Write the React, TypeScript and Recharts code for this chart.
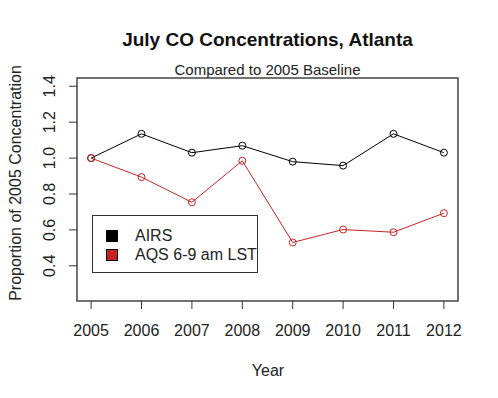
import { LineChart, Line, XAxis, YAxis, ReferenceArea } from 'recharts';

const years = [2005, 2006, 2007, 2008, 2009, 2010, 2011, 2012];
const airs = [1.0, 1.135, 1.03, 1.069, 0.98, 0.958, 1.135, 1.03];
const aqs = [1.0, 0.894, 0.754, 0.985, 0.53, 0.602, 0.587, 0.693];
const yTicks = [0.4, 0.6, 0.8, 1.0, 1.2, 1.4];

const data = years.map((year, i) => ({ year, airs: airs[i], aqs: aqs[i] }));

const FONT = '"Liberation Sans", Arial, sans-serif';
const RED = '#c42424';
const X_DOMAIN: [number, number] = [2004.72, 2012.28];
const Y_DOMAIN: [number, number] = [0.204, 1.446];

// eslint-disable-next-line @typescript-eslint/no-explicit-any
function YTick({ x, y, payload }: any) {
  return (
    <text
      x={x}
      y={y}
      transform={`rotate(-90, ${x}, ${y})`}
      textAnchor="middle"
      dominantBaseline="central"
      fontSize={16}
      fontFamily={FONT}
      fill="#222"
    >
      {payload.value.toFixed(1)}
    </text>
  );
}

function Legend() {
  return (
    <div style={{
      position: 'absolute',
      left: 92,
      top: 215,
      width: 164,
      height: 56,
      border: '1px solid #333',
      background: '#fff',
      fontFamily: FONT,
      fontSize: 16,
      color: '#222',
    }}>
      {[['AIRS', '#000'], ['AQS 6-9 am LST', RED]].map(([name, color], i) => (
        <div key={name} style={{ position: 'absolute', left: 13, top: 11 + i * 19, display: 'flex', alignItems: 'center', height: 18 }}>
          <div style={{ width: 10, height: 10, background: color, border: '1px solid #000', marginRight: 17 }} />
          <span>{name}</span>
        </div>
      ))}
    </div>
  );
}

export default function App() {
  return (
    <div style={{ position: 'absolute', left: 0, top: 0, width: 498, height: 398, background: '#fff', fontFamily: FONT }}>
      <div style={{ position: 'absolute', left: 0, width: 535, top: 29, textAlign: 'center', fontSize: 19, fontWeight: 'bold', color: '#111' }}>
        July CO Concentrations, Atlanta
      </div>
      <div style={{ position: 'absolute', left: 0, width: 535, top: 61, textAlign: 'center', fontSize: 15, color: '#222' }}>
        Compared to 2005 Baseline
      </div>
      <div style={{ position: 'absolute', left: 268 - 50, width: 100, top: 362, textAlign: 'center', fontSize: 16, color: '#222' }}>
        Year
      </div>
      <div style={{
        position: 'absolute', left: 16, top: 183, transform: 'translate(-50%, -50%) rotate(-90deg)',
        whiteSpace: 'nowrap', fontSize: 16, color: '#222',
      }}>
        Proportion of 2005 Concentration
      </div>
      <LineChart width={498} height={398} data={data} margin={{ top: 78, right: 40, bottom: 37, left: 0 }}>
        <XAxis
          dataKey="year"
          type="number"
          domain={X_DOMAIN}
          ticks={years}
          allowDataOverflow
          axisLine={false}
          tickSize={8}
          tickMargin={16}
          tickLine={{ stroke: '#333' }}
          tick={{ fontSize: 16, fontFamily: FONT, fill: '#222' }}
          height={60}
        />
        <YAxis
          type="number"
          domain={Y_DOMAIN}
          ticks={yTicks}
          allowDataOverflow
          axisLine={false}
          tickSize={8}
          tickMargin={19}
          tickLine={{ stroke: '#333' }}
          tick={<YTick />}
          width={77}
        />
        <ReferenceArea x1={X_DOMAIN[0]} x2={X_DOMAIN[1]} y1={Y_DOMAIN[0]} y2={Y_DOMAIN[1]} fill="none" stroke="#444" strokeWidth={1.5} fillOpacity={0} strokeOpacity={1} />
        <Line
          dataKey="airs"
          type="linear"
          stroke="#000"
          strokeWidth={1}
          dot={{ r: 3.5, stroke: '#000', strokeWidth: 1, fill: 'none' }}
          isAnimationActive={false}
        />
        <Line
          dataKey="aqs"
          type="linear"
          stroke={RED}
          strokeWidth={1}
          dot={{ r: 3.5, stroke: RED, strokeWidth: 1, fill: 'none' }}
          isAnimationActive={false}
        />
      </LineChart>
      <Legend />
    </div>
  );
}
